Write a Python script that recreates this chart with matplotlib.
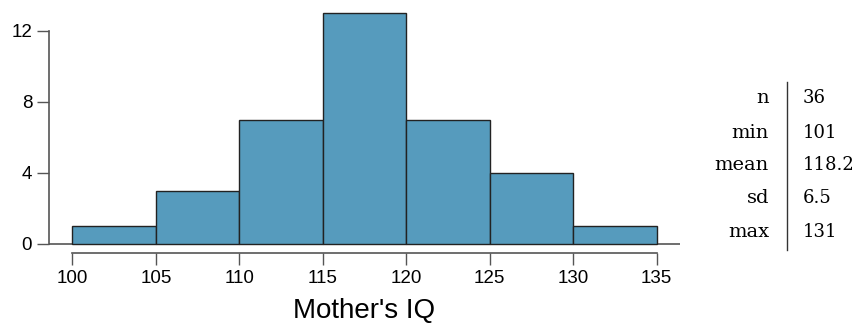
import matplotlib.pyplot as plt
from matplotlib.lines import Line2D

# histogram bins and counts
bin_edges = [100, 105, 110, 115, 120, 125, 130, 135]
counts = [1, 3, 7, 13, 7, 4, 1]

# summary table
stat_names = ["n", "min", "mean", "sd", "max"]
stat_values = ["36", "101", "118.2", "6.5", "131"]

W, H = 862, 330
fig = plt.figure(figsize=(W / 100, H / 100), dpi=100)
ax = fig.add_axes([49 / W, 1 - 253 / H, (680 - 49) / W, (253 - 4) / H])

lefts = bin_edges[:-1]
widths = [b - a for a, b in zip(bin_edges[:-1], bin_edges[1:])]
ax.bar(lefts, counts, width=widths, align="edge", color="#569BBD",
       edgecolor="#222222", linewidth=1)
ax.axhline(0, color="#555555", linewidth=1.2, zorder=0)

ax.set_xlim(98.6, 136.4)
ax.set_ylim(-0.52, 13.52)
ax.set_xticks(bin_edges)
ax.set_yticks([0, 4, 8, 12])

for s in ["top", "right"]:
    ax.spines[s].set_visible(False)
ax.spines["bottom"].set_bounds(100, 135)
ax.spines["left"].set_bounds(0, 12)
for s in ["bottom", "left"]:
    ax.spines[s].set_color("#555555")
    ax.spines[s].set_linewidth(1.2)

ax.tick_params(length=8.6, width=1, color="#555555", pad=3.5,
               labelsize=13.5, labelcolor="black")
for lab in ax.get_xticklabels() + ax.get_yticklabels():
    lab.set_family("Liberation Sans")

ax.set_xlabel("Mother's IQ", family="Liberation Sans", fontsize=20, labelpad=8)

# stats table at the right
row_y = [98, 133, 165, 198, 232]
for name, val, y in zip(stat_names, stat_values, row_y):
    fig.text(769 / W, 1 - y / H, name, ha="right", va="center",
             family="DejaVu Serif", fontsize=14)
    fig.text(803 / W, 1 - y / H, val, ha="left", va="center",
             family="DejaVu Serif", fontsize=13)
fig.add_artist(Line2D([787 / W, 787 / W], [1 - 82 / H, 1 - 250 / H],
                      color="#333333", linewidth=1))

fig.savefig("out.png", dpi=100)
